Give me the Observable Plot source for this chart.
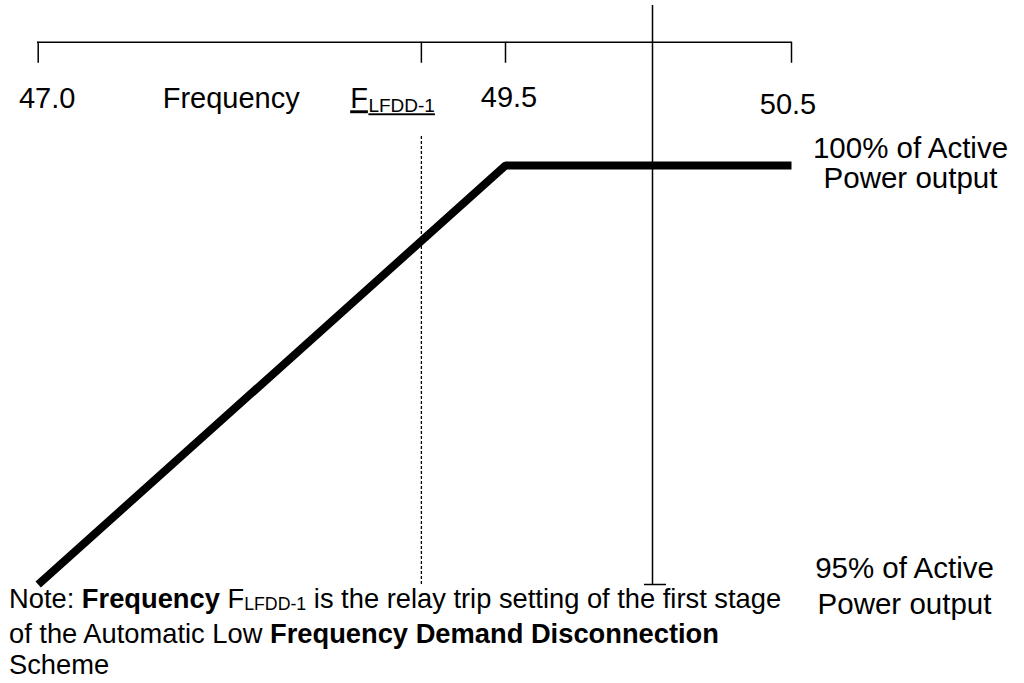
<!DOCTYPE html>
<html><head><meta charset="utf-8">
<script src="https://cdn.jsdelivr.net/npm/d3@7"></script>
<script src="https://cdn.jsdelivr.net/npm/@observablehq/plot@0.6"></script>
<style>
body{margin:0;background:#fff;font-family:"Liberation Sans",Arial,sans-serif;}
#chart svg{display:block;overflow:visible}
#chart text.dbl{text-decoration-line:underline;text-decoration-style:double;text-decoration-thickness:1px;text-underline-offset:2px;}
#note{margin:0 0 0 9px;font-size:27.3px;line-height:31px;white-space:nowrap;color:#000}
#note .sub{font-size:0.65em;position:relative;top:0.12em}
</style></head><body>
<div id="chart"></div>
<div id="note">Note: <b>Frequency</b> F<span class="sub">LFDD-1</span> is the relay trip setting of the first stage<br>of the Automatic Low <b>Frequency Demand Disconnection</b><br>Scheme</div>
<script>
// Frequency axis (Hz) – schematic, not to scale
const tickValues = [47.0, 49.5, 50.5];
const tickLabels = ["47.0", "49.5", "50.5"];
const axisTitle = "Frequency";
const fLFDD = 49.05;           // F LFDD-1 (relay trip setting)
const fLFDDMain = "F";
const fLFDDSub = "LFDD-1";
const nominalFreq = 50.0;      // vertical reference line
// Active power curve (% of active power output)
const curveFreq = [47.0, 49.5, 50.5];
const curvePower = [95, 100, 100];
// Power level labels
const powerLevels = [100, 95];
const powerLabels = ["100% of Active\nPower output", "95% of Active\nPower output"];

const curve = curveFreq.map((f, i) => ({f, p: curvePower[i]}));

// decoration levels (in % units of the y scale)
const barLevel = 101.47, tickEnd = 101.22, refTop = 101.91, dottedTop = 100.35;
const fs = 29;

const chart = Plot.plot({
  width: 1024,
  height: 583,
  style: {fontFamily: "Liberation Sans, Arial, sans-serif", fontSize: fs + "px", color: "black", background: "white", overflow: "visible"},
  x: {type: "linear", domain: [47, 49.5, 50, 50.5], range: [37.7, 505, 652, 791], axis: null},
  y: {domain: [95, 100], range: [584, 165], axis: null},
  marks: [
    // top frequency scale bar and its ticks
    Plot.ruleY([barLevel], {x1: tickValues[0], x2: tickValues[2], stroke: "black", strokeWidth: 1.5, strokeLinecap: "square"}),
    Plot.ruleX([...tickValues, fLFDD], {y1: barLevel, y2: tickEnd, stroke: "black", strokeWidth: 1.5}),
    // nominal vertical line with cap
    Plot.ruleX([nominalFreq], {y1: 95, y2: refTop, stroke: "black", strokeWidth: 1.5}),
    Plot.ruleY([95], {x1: nominalFreq, x2: nominalFreq, insetLeft: -8, insetRight: -14, stroke: "black", strokeWidth: 1.5}),
    // dotted F LFDD-1 line
    Plot.ruleX([fLFDD], {y1: 95, y2: dottedTop, stroke: "black", strokeWidth: 1.3, strokeDasharray: "3,2"}),
    // power curve
    Plot.line(curve, {x: "f", y: "p", stroke: "black", strokeWidth: 8, strokeLinejoin: "miter", strokeLinecap: "butt"}),
    // tick labels
    Plot.text([0], {x: () => tickValues[0], y: () => barLevel, text: () => tickLabels[0], lineAnchor: "bottom", textAnchor: "middle", dx: 9, dy: 66, fontSize: fs}),
    Plot.text([1], {x: () => tickValues[1], y: () => barLevel, text: () => tickLabels[1], lineAnchor: "bottom", textAnchor: "middle", dx: 3.5, dy: 65, fontSize: fs}),
    Plot.text([2], {x: () => tickValues[2], y: () => barLevel, text: () => tickLabels[2], lineAnchor: "bottom", textAnchor: "middle", dx: -3.5, dy: 72, fontSize: fs}),
    Plot.text([axisTitle], {x: () => tickValues[0], y: () => barLevel, text: d => d, lineAnchor: "bottom", textAnchor: "start", dx: 124.5, dy: 66, fontSize: fs}),
    Plot.text([fLFDDMain], {x: () => fLFDD, y: () => barLevel, text: d => d, lineAnchor: "bottom", textAnchor: "end", dx: -53.5, dy: 66, fontSize: fs}),
    Plot.text([fLFDDSub], {x: () => fLFDD, y: () => barLevel, text: d => d, lineAnchor: "bottom", textAnchor: "start", dx: -53, dy: 70, fontSize: 19}),
    // power labels
    Plot.text([0], {x: () => tickValues[2], y: () => powerLevels[0], text: () => powerLabels[0], lineAnchor: "bottom", textAnchor: "middle", dx: 119, dy: 22, fontSize: 29.5, lineHeight: 30 / 29.5}),
    Plot.text([1], {x: () => tickValues[2], y: () => powerLevels[1], text: () => powerLabels[1], lineAnchor: "bottom", textAnchor: "middle", dx: 113, dy: 29, fontSize: 29.5, lineHeight: 36 / 29.5})
  ]
});
// double underline for the F LFDD-1 label
chart.querySelectorAll("text").forEach(t => {
  if (t.textContent === fLFDDMain || t.textContent === fLFDDSub) t.classList.add("dbl");
});
document.getElementById("chart").appendChild(chart);
</script>
</body></html>
